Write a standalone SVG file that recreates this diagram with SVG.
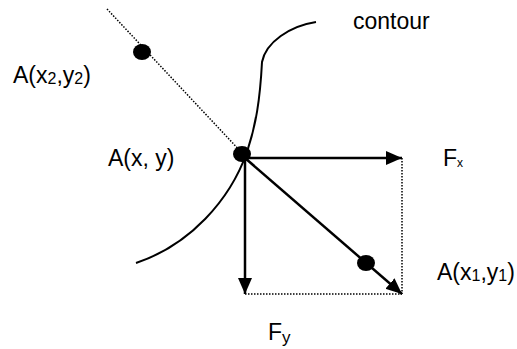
<svg xmlns="http://www.w3.org/2000/svg" width="517" height="349" viewBox="0 0 517 349">
<style>
.lbl{font-family:"Liberation Sans",Arial,sans-serif;font-size:23px;fill:#000}
.arr{stroke:#000;stroke-width:2.5;fill:none}
.cnt{stroke:#000;stroke-width:2;fill:none}
.dot{stroke:#000;stroke-width:1.5;stroke-dasharray:1.5 1.5;fill:none}
.pt{fill:#000}
</style>
<defs>
<marker id="ah" markerUnits="userSpaceOnUse" markerWidth="16" markerHeight="16" viewBox="0 0 16 16" refX="16" refY="8" orient="auto">
<path d="M0,1 L16,8 L0,15 Z" fill="#000"/>
</marker>
</defs>
<g id="connectors">
<line class="dot" x1="107" y1="9" x2="243" y2="154"/>
<line class="dot" x1="402" y1="158" x2="402" y2="294"/>
<line class="dot" x1="245" y1="294" x2="402" y2="294"/>
<line class="arr" x1="245" y1="158" x2="402" y2="158" marker-end="url(#ah)"/>
<line class="arr" x1="245" y1="158" x2="245" y2="294" marker-end="url(#ah)"/>
<line class="arr" x1="245" y1="158" x2="402" y2="294" marker-end="url(#ah)"/>
</g>
<g id="contour">
<path class="cnt" d="M316,22 C290,26 266,42 262,62 C260,100 256,125 247,152 C230,200 190,245 136,263"/>
<text class="lbl" x="353" y="29">contour</text>
</g>
<g id="A2">
<ellipse class="pt" cx="142" cy="52" rx="9" ry="8"/>
<text class="lbl" x="13" y="83">A(x<tspan font-size="16" dy="1">2</tspan><tspan dy="-1">,y</tspan><tspan font-size="16" dy="1">2</tspan><tspan dy="-1">)</tspan></text>
</g>
<g id="A">
<ellipse class="pt" cx="242" cy="154" rx="9" ry="8"/>
<text class="lbl" x="108" y="166">A(x, y)</text>
</g>
<g id="A1">
<ellipse class="pt" cx="366" cy="263" rx="9" ry="8"/>
<text class="lbl" x="437" y="280">A(x<tspan font-size="16" dy="1">1</tspan><tspan dy="-1">,y</tspan><tspan font-size="16" dy="1">1</tspan><tspan dy="-1">)</tspan></text>
</g>
<g id="Fx">
<text class="lbl" x="443" y="166">F<tspan font-size="12" dy="1">x</tspan></text>
</g>
<g id="Fy">
<text class="lbl" x="268" y="340">F<tspan font-size="17" dy="3">y</tspan></text>
</g>
</svg>
